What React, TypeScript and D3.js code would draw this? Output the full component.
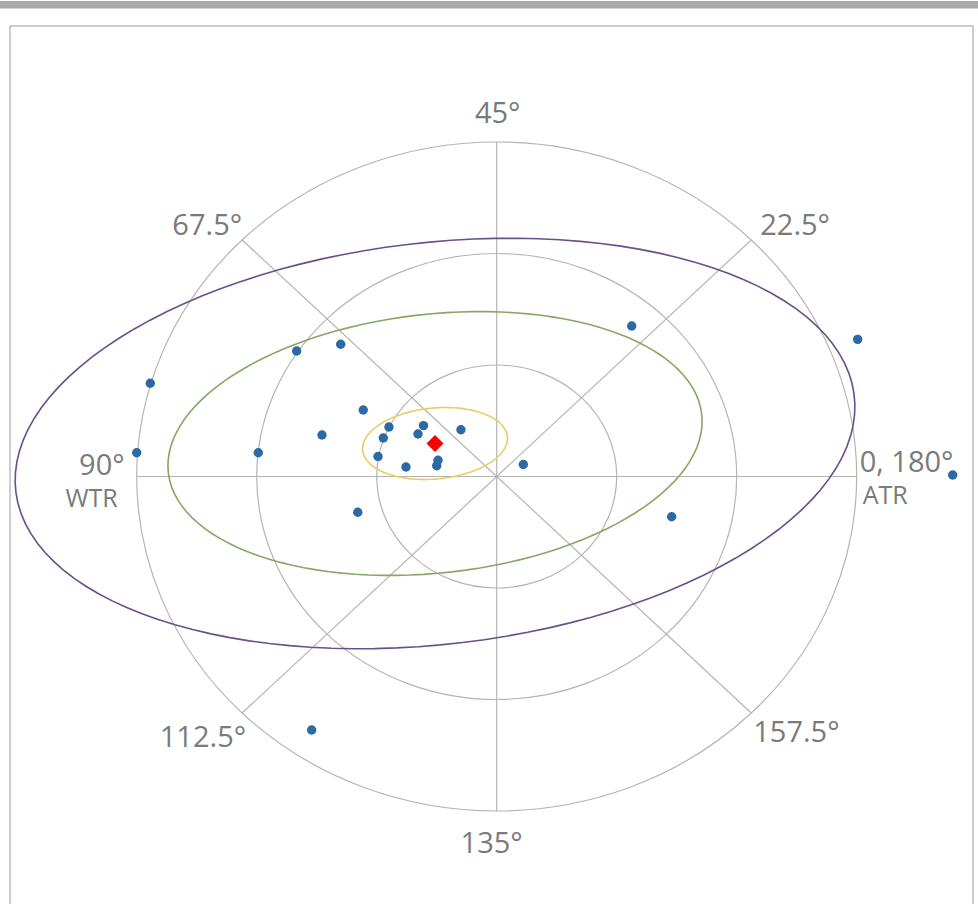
import React from "react";
import * as d3 from "d3";

// ---- data ----
const ringValues = [1, 2, 3];
const spokeAngles = [0, 45, 90, 135]; // screen angles (double-angle plot)
const axisLabels = ["0, 180°", "22.5°", "45°", "67.5°", "90°", "112.5°", "135°", "157.5°"];
const subLabels = ["ATR", "WTR"];

// astigmatism vectors (double-angle coordinates)
const pointX = [-2.887, -3.0, -1.667, -1.3, -1.987, -1.456, -1.112, -0.898, -0.945, -0.989, -0.756, -0.61, -0.656, -0.489, -0.5, -0.298, -1.158, 1.125, 3.008, 0.222, 1.458, 3.8, -1.542];
const pointY = [0.836, 0.213, 1.126, 1.186, 0.213, 0.372, 0.596, 0.444, 0.345, 0.179, 0.085, 0.456, 0.381, 0.146, 0.096, 0.419, -0.321, 1.35, 1.23, 0.108, -0.361, 0.013, -2.274];
const meanPoint = [-0.514, 0.296];

// ellipses: semi-major, semi-minor, rotation (deg)
const ellipseNames = ["yellow", "green", "purple"];
const ellipseA = [0.606, 2.238, 3.52];
const ellipseB = [0.318, 1.16, 1.80];
const ellipseRot = [6, 7, 7.3];

// ---- layout ----
const W = 978, H = 904;
const CX = 496.7, CY = 476.5, RX = 360, RY = 334.5;
const ellipseColors: Record<string, string> = { yellow: "#e9cd62", green: "#84a866", purple: "#6b4f8a" };
const labelLayout = [
  { anchor: "start", dx: 3, dy: -5 },
  { anchor: "start", dx: 9, dy: -5 },
  { anchor: "middle", dx: 1, dy: -19 },
  { anchor: "end", dx: 0, dy: -5 },
  { anchor: "end", dx: -12, dy: -1.5 },
  { anchor: "end", dx: 4, dy: 34 },
  { anchor: "middle", dx: -5, dy: 42 },
  { anchor: "start", dx: 2, dy: 29 },
];

export default function App() {
  const x = d3.scaleLinear().domain([-3, 3]).range([CX - RX, CX + RX]);
  const y = d3.scaleLinear().domain([-3, 3]).range([CY + RY, CY - RY]);
  const gridColor = "#b4b4b4";
  const labelColor = "#7a7a7a";
  const font = "'Open Sans', sans-serif";

  const ellipsePath = (i: number) => {
    const a = ellipseA[i], b = ellipseB[i], phi = (ellipseRot[i] * Math.PI) / 180;
    const ts = d3.range(0, 361, 3).map((d) => (d * Math.PI) / 180);
    const line = d3
      .line<number>()
      .x((t) => x(meanPoint[0] + a * Math.cos(t) * Math.cos(phi) - b * Math.sin(t) * Math.sin(phi)))
      .y((t) => y(meanPoint[1] + a * Math.cos(t) * Math.sin(phi) + b * Math.sin(t) * Math.cos(phi)));
    return line(ts) + "Z";
  };

  const diamond = d3.symbol(d3.symbolSquare, 144)();

  return (
    <svg width={W} height={H} style={{ position: "absolute", left: 0, top: 0, background: "#fff" }}>
      <rect x={0} y={1} width={W} height={7.5} fill="#a9a9a9" />
      <rect x={10} y={26} width={963} height={900} fill="#fff" stroke="#bdbdbd" strokeWidth={1.5} />

      {/* rings */}
      {ringValues.map((r) => (
        <ellipse key={r} cx={x(0)} cy={y(0)} rx={x(r) - x(0)} ry={y(0) - y(r)} fill="none" stroke={gridColor} strokeWidth={1.2} />
      ))}
      {/* spokes */}
      {spokeAngles.map((ang) => {
        const t = (ang * Math.PI) / 180;
        const m = ringValues[ringValues.length - 1];
        return (
          <line key={ang} x1={x(-m * Math.cos(t))} y1={y(-m * Math.sin(t))} x2={x(m * Math.cos(t))} y2={y(m * Math.sin(t))} stroke={gridColor} strokeWidth={1.2} />
        );
      })}

      {/* axis labels */}
      {axisLabels.map((lab, i) => {
        const t = (i * 45 * Math.PI) / 180;
        const m = ringValues[ringValues.length - 1];
        const L = labelLayout[i];
        return (
          <text key={lab} x={x(m * Math.cos(t)) + L.dx} y={y(m * Math.sin(t)) + L.dy} textAnchor={L.anchor as any} fontFamily={font} fontSize={29} fill={labelColor}>
            {lab}
          </text>
        );
      })}
      <text x={x(3) + 6} y={y(0) + 27.5} fontFamily={font} fontSize={25} fill={labelColor}>{subLabels[0]}</text>
      <text x={x(-3) - 19} y={y(0) + 30.5} textAnchor="end" fontFamily={font} fontSize={25} fill={labelColor}>{subLabels[1]}</text>

      {/* ellipses */}
      {ellipseNames.map((n, i) => (
        <path key={n} d={ellipsePath(i)} fill="none" stroke={ellipseColors[n]} strokeWidth={1.6} />
      ))}

      {/* points */}
      {pointX.map((px, i) => (
        <circle key={i} cx={x(px)} cy={y(pointY[i])} r={4.7} fill="#2c6aa4" />
      ))}
      <path d={diamond || ""} transform={`translate(${x(meanPoint[0])},${y(meanPoint[1])}) rotate(45)`} fill="#ff0000" />
    </svg>
  );
}
